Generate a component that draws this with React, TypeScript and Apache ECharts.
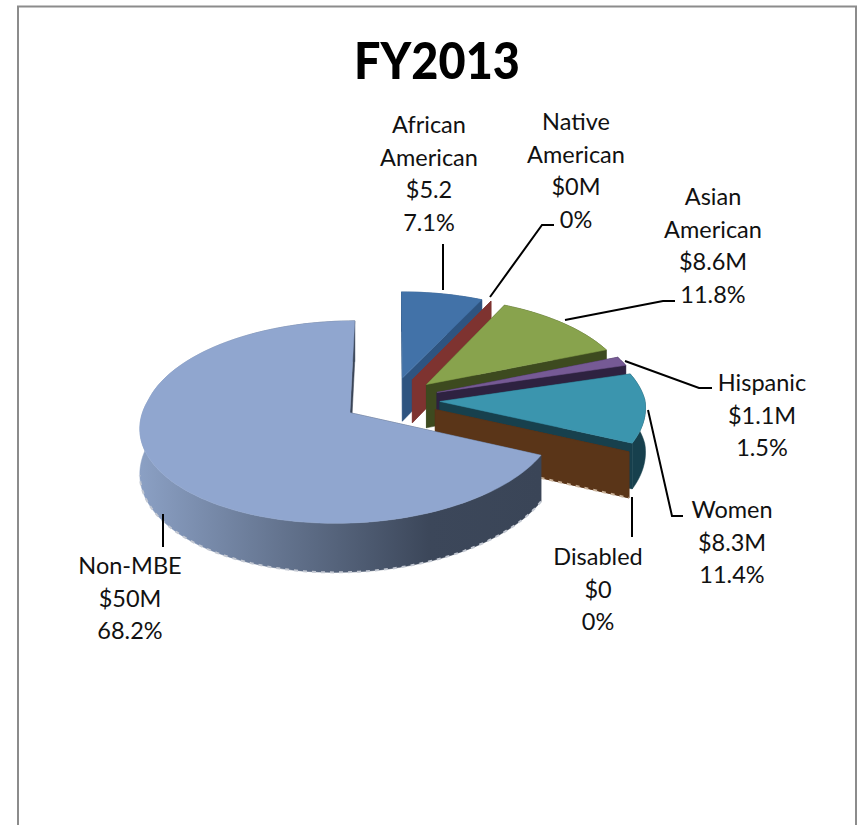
import React, { useEffect, useRef } from "react";
import * as echarts from "echarts";

const titleText = "FY2013";
const categories = ["African\nAmerican", "Native\nAmerican", "Asian\nAmerican", "Hispanic", "Women", "Disabled", "Non-MBE"];
const valuesM = [5.2, 0, 8.6, 1.1, 8.3, 0, 50];
const amountLabels = ["$5.2", "$0M", "$8.6M", "$1.1M", "$8.3M", "$0", "$50M"];
const percentLabels = ["7.1%", "0%", "11.8%", "1.5%", "11.4%", "0%", "68.2%"];

const topColors = ["#4272A8", "#8A3A36", "#88A34D", "#765A95", "#3B95AE", "#8F5A2A", "#90A6CF"];
const sideColors = ["#2E5480", "#7E3330", "#3D4A1F", "#2E2240", "#17404D", "#5A3518", "#3A4557"];

// Projection of the exploded 3D pie
const CX = 392, CY = 400, R = 205, EXPLODE = 48, SQUASH = 0.478, PERSP = 0.00045, DEPTH = 44, SHEAR = 0.05;

const labelPos: [number, number][] = [[429, 108], [576, 105], [713, 180], [762, 366], [732, 493], [598, 540], [130, 549]];
const leaders: [number, number][][] = [
  [[443, 244], [443, 290]],
  [[554, 225], [542, 225], [490, 297]],
  [[675, 301], [663, 301], [565, 320]],
  [[712, 388], [699, 388], [625, 361]],
  [[683, 516], [672, 516], [648, 410]],
  [[632, 497], [632, 537]],
  [[163, 514], [163, 547]],
];

const total = valuesM.reduce((a, b) => a + b, 0);
const deg = (d: number) => (d * Math.PI) / 180;

function project(x: number, y: number, drop = 0): number[] {
  const p = 1 / (1 + PERSP * y);
  return [CX + x * p + (y < 0 ? y * SHEAR : 0), CY - y * SQUASH * p + drop * p];
}

function renderSlice(_: any, api: any) {
  const i = api.value(0) as number;
  const v = api.value(1) as number;
  let before = 0;
  for (let k = 0; k < i; k++) before += valuesM[k];
  const a0 = (before / total) * 360;
  const a1 = ((before + v) / total) * 360;
  const mid = deg((a0 + a1) / 2);
  const ox = EXPLODE * Math.sin(mid);
  const oy = EXPLODE * Math.cos(mid);
  const rim = (a: number, drop = 0) => project(ox + R * Math.sin(deg(a)), oy + R * Math.cos(deg(a)), drop);
  const apex = (drop = 0) => project(ox, oy, drop);
  const arc: number[] = [];
  const n = Math.max(1, Math.ceil((a1 - a0) / 2));
  for (let k = 0; k <= n; k++) arc.push(a0 + ((a1 - a0) * k) / n);
  const side = sideColors[i];
  const wallFill =
    i === 6
      ? new echarts.graphic.LinearGradient(0, 0, 1, 0, [
          { offset: 0, color: "#8BA0C4" },
          { offset: 0.35, color: "#64748F" },
          { offset: 0.72, color: "#3C475A" },
          { offset: 1, color: "#3A4557" },
        ])
      : side;
  const poly = (points: number[][], fill: any) => ({
    type: "polygon",
    shape: { points },
    style: { fill, stroke: fill, lineWidth: 0.5 },
  });
  const fringe = (points: number[][], stroke: string) => ({
    type: "polyline",
    shape: { points },
    style: { fill: "none", stroke, lineWidth: 2, lineDash: [4, 5] },
  });
  const children: any[] = [];
  children.push(poly([apex(), rim(a0), rim(a0, DEPTH), apex(DEPTH)], side));
  if (a1 > a0) {
    children.push(poly([...arc.map((a) => rim(a)), ...arc.slice().reverse().map((a) => rim(a, DEPTH))], wallFill));
  }
  children.push(poly([apex(), rim(a1), rim(a1, DEPTH), apex(DEPTH)], side));
  if (v === 0 && a0 > 90) {
    children.push(fringe([apex(DEPTH), rim(a1, DEPTH)], "#C9B29A"));
  }
  if (i === 6) {
    children.push(fringe(arc.filter((a) => a < 262).map((a) => rim(a, DEPTH)), "#C3C8D2"));
  }
  if (a1 > a0) {
    children.push(poly([apex(), ...arc.map((a) => rim(a))], topColors[i]));
  }
  return { type: "group", children };
}

export default function App() {
  const ref = useRef<HTMLDivElement>(null);
  useEffect(() => {
    const chart = echarts.init(ref.current!, null, { renderer: "svg" });
    const font = "Lato, Carlito, Calibri, sans-serif";
    chart.setOption({
      animation: false,
      backgroundColor: "#ffffff",
      series: [
        {
          type: "custom",
          coordinateSystem: "none",
          silent: true,
          clip: false,
          renderItem: renderSlice,
          data: valuesM.map((v, i) => [i, v]),
        },
      ],
      graphic: [
        {
          type: "polyline",
          silent: true,
          shape: { points: [[18, 825], [18, 6.5], [856, 6.5], [856, 825]] },
          style: { stroke: "#8C8C8C", lineWidth: 2, fill: "none" },
        },
        {
          type: "text",
          silent: true,
          z: 10,
          x: 437,
          y: 59,
          scaleX: 0.9,
          style: {
            text: titleText,
            fontFamily: font,
            fontWeight: 900,
            fontSize: 52,
            fill: "#000000",
            align: "center",
            verticalAlign: "middle",
          },
        },
        ...leaders.map((points) => ({
          type: "polyline",
          silent: true,
          z: 10,
          shape: { points },
          style: { stroke: "#000000", lineWidth: 2, fill: "none" },
        })),
        ...categories.map((c, i) => ({
          type: "text",
          silent: true,
          z: 10,
          x: labelPos[i][0],
          y: labelPos[i][1],
          style: {
            text: `${c}\n${amountLabels[i]}\n${percentLabels[i]}`,
            fontFamily: font,
            fontSize: 23.5,
            lineHeight: 32.5,
            fill: "#111111",
            align: "center",
            verticalAlign: "top",
          },
        })),
      ],
    });
    return () => chart.dispose();
  }, []);
  return <div ref={ref} style={{ position: "absolute", left: 0, top: 0, width: 860, height: 825 }} />;
}
